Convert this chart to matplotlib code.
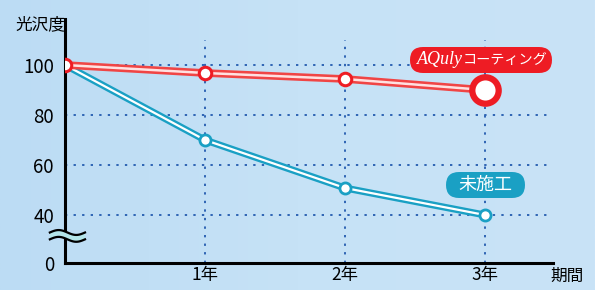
import numpy as np
import matplotlib
matplotlib.use("Agg")
import matplotlib.pyplot as plt
from matplotlib.patches import FancyBboxPatch, Polygon
from matplotlib.transforms import IdentityTransform
from matplotlib.colors import LinearSegmentedColormap

plt.rcParams['font.family'] = ['Noto Sans CJK JP', 'DejaVu Sans']

years = [0, 1, 2, 3]
xtick_pos = [1, 2, 3]
xtick_labels = ["1年", "2年", "3年"]
aquly = [100, 96.8, 94.4, 90]
untreated = [100, 70, 50.8, 40]
ytick_pos = [0, 40, 60, 80, 100]
ytick_labels = ["0", "40", "60", "80", "100"]
grid_y = [40, 60, 80, 100]

RED = "#ee1c24"
TEAL = "#1aa0c4"
GRID = "#2e64b4"

def fwd(y):
    y = np.asarray(y, dtype=float)
    return np.where(y >= 40, y, 40 - (40 - y) * 0.48)

def inv(v):
    v = np.asarray(v, dtype=float)
    return np.where(v >= 40, v, 40 - (40 - v) / 0.48)

W, H = 595, 290
fig = plt.figure(figsize=(W / 100, H / 100), dpi=100)
fig.patch.set_facecolor("#c3dff5")
bg = fig.add_axes([0, 0, 1, 1], zorder=-10)
grad = np.linspace(0, 1, 256)[None, :]
cm = LinearSegmentedColormap.from_list("bg", ["#bcdcf4", "#c6e2f6", "#c9e3f7"])
bg.imshow(grad, aspect="auto", cmap=cm, extent=[0, 1, 0, 1])
bg.axis("off")

ax = fig.add_axes([65 / W, 27 / H, (553 - 65) / W, (263 - 19) / H])
ax.patch.set_alpha(0)
ax.set_yscale("function", functions=(fwd, inv))
ax.set_xlim(0, 3.486)
ax.set_ylim(0, 118.4)

for s in ["top", "right"]:
    ax.spines[s].set_visible(False)
for s in ["left", "bottom"]:
    ax.spines[s].set_linewidth(2.2)
    ax.spines[s].set_color("black")

# grid
for gy in grid_y:
    ax.plot([0, 3.45], [gy, gy], color=GRID, lw=1.4, ls=(0, (1.2, 3.2)), zorder=1)
for gx in xtick_pos:
    ax.plot([gx, gx], [0, 110], color=GRID, lw=1.4, ls=(0, (1.2, 3.2)), zorder=1)

# untreated line
ax.plot(years, untreated, color=TEAL, lw=5, solid_capstyle="round", zorder=3)
ax.plot(years, untreated, color="white", lw=1.6, zorder=4)
ax.plot(years, untreated, ls="none", marker="o", ms=8, mfc="white", mec=TEAL, mew=2, zorder=5)

# aquly line
ax.plot(years, aquly, color="#f04545", lw=5.5, solid_capstyle="round", zorder=6)
ax.plot(years, aquly, color="#ffe0e0", lw=1.8, zorder=7)
ax.plot(years[:-1], aquly[:-1], ls="none", marker="o", ms=9, mfc="white", mec=RED, mew=2.2, zorder=8)
ax.plot(years[-1:], aquly[-1:], ls="none", marker="o", ms=19, mfc="white", mec=RED, mew=4.5, zorder=8)

# ticks
ax.set_xticks(xtick_pos)
ax.set_xticklabels(xtick_labels, fontsize=12.5)
ax.set_yticks(ytick_pos)
ax.set_yticklabels(ytick_labels, fontsize=13.5)
ax.tick_params(axis="x", length=0, pad=2)
ax.tick_params(axis="y", length=0, pad=8)

fig.text(40 / W, 1 - 25 / H, "光沢度", fontsize=12, ha="center", va="center")
fig.text(567 / W, 1 - 276 / H, "期間", fontsize=12, ha="center", va="center")

# label boxes (pixel coordinates, figure origin bottom-left)
box = FancyBboxPatch((410, H - 73), 142, 26, boxstyle="round,pad=0,rounding_size=13",
                     transform=IdentityTransform(), fc=RED, ec="none", zorder=9)
fig.patches.append(box)
fig.text(463 / W, 1 - 60 / H, "AQuly", family="Liberation Serif", style="italic", fontsize=13,
         color="white", ha="right", va="center", zorder=10)
fig.text(463 / W, 1 - 60 / H, "コーティング", fontsize=10.2, color="white", ha="left", va="center", zorder=10)

box2 = FancyBboxPatch((446, H - 198), 79, 26, boxstyle="round,pad=0,rounding_size=13",
                      transform=IdentityTransform(), fc=TEAL, ec="none", zorder=9)
fig.patches.append(box2)
fig.text(485.5 / W, 1 - 185 / H, "未施工", fontsize=13, color="white", ha="center", va="center", zorder=10)

# axis break symbol
t = np.linspace(0, 1, 60)
xs = -0.031 + t * 0.072
wave = 0.010 * np.sin(t * 2 * np.pi)
y1 = 0.125 + wave
y2 = 0.097 + wave
poly = Polygon(np.column_stack([np.r_[xs, xs[::-1]], np.r_[y1, y2[::-1]]]),
               closed=True, transform=ax.transAxes, fc="#b4e6ea", ec="none",
               clip_on=False, zorder=11)
ax.add_patch(poly)
ax.plot(xs, y1, color="black", lw=1.6, transform=ax.transAxes, clip_on=False, zorder=12)
ax.plot(xs, y2, color="black", lw=1.6, transform=ax.transAxes, clip_on=False, zorder=12)

fig.savefig("out.png", dpi=100, facecolor=fig.get_facecolor())
